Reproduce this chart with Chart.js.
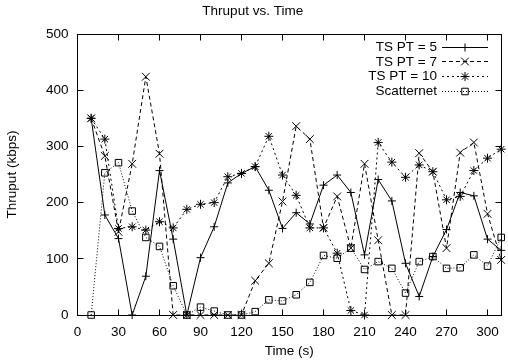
<!DOCTYPE html>
<html>
<head>
<meta charset="utf-8">
<title>Thruput vs. Time</title>
<script src="https://cdn.jsdelivr.net/npm/chart.js@4.4.1/dist/chart.umd.min.js"></script>
<style>
  html, body { margin: 0; padding: 0; background: #fff; }
  #wrap { width: 508px; height: 364px; }
</style>
</head>
<body>
<div id="wrap"><canvas id="thruput-chart" width="508" height="364"></canvas></div>
<script>
// sample times (s)
const times = [10, 20, 30, 40, 50, 60, 70, 80, 90, 100, 110, 120, 130, 140, 150, 160,
  170, 180, 190, 200, 210, 220, 230, 240, 250, 260, 270, 280, 290, 300, 310];

// thruput (kbps)
const ts5 = [350, 178, 136, 0, 69, 257, 135, 0, 102, 157, 235, 252, 264, 222, 154, 182,
  162, 231, 249, 218, 107, 241, 203, 92, 33, 104, 152, 218, 212, 135, 115];
const ts7 = [350, 283, 148, 269, 424, 287, 0, 0, 0, 0, 0, 0, 61, 92, 202, 336,
  313, 155, 211, 119, 269, 133, 0, 0, 288, 255, 119, 289, 307, 180, 98];
const ts10 = [350, 313, 154, 157, 151, 166, 155, 188, 197, 200, 246, 252, 264, 318, 249, 213,
  155, 155, 110, 8, 0, 307, 272, 245, 267, 255, 205, 211, 257, 279, 295];
const scatternet = [0, 253, 271, 185, 138, 122, 52, 0, 14, 7, 0, 0, 6, 27, 25, 36,
  58, 106, 101, 119, 81, 95, 83, 39, 95, 104, 83, 84, 107, 87, 138];

const seriesNames = ["TS PT = 5", "TS PT = 7", "TS PT = 10", "Scatternet"];
const xTickVals = [0, 30, 60, 90, 120, 150, 180, 210, 240, 270, 300];
const yTickVals = [0, 100, 200, 300, 400, 500];

const FONT = { family: "'Liberation Sans', Arial, sans-serif", size: 13.5 };

const toPoints = arr => times.map((t, i) => ({ x: t, y: arr[i] }));

// gnuplot-ish line types
const styles = [
  { dash: [], pointStyle: 'cross', radius: 4 },
  { dash: [4, 3], pointStyle: 'crossRot', radius: 5.5 },
  { dash: [2, 3], pointStyle: 'star', radius: 4.5 },
  { dash: [1, 2], pointStyle: 'rect', radius: 4.6 }
];

const datasets = [ts5, ts7, ts10, scatternet].map((arr, i) => ({
  label: seriesNames[i],
  data: toPoints(arr),
  borderColor: '#000',
  borderWidth: 1,
  borderDash: styles[i].dash,
  pointStyle: styles[i].pointStyle,
  pointRadius: styles[i].radius,
  pointBorderColor: '#000',
  pointBackgroundColor: 'rgba(0,0,0,0)',
  pointBorderWidth: 1,
  tension: 0,
  clip: false
}));

// border box, inward ticks on all four sides, and the key in the top right
const frameAndKey = {
  id: 'frameAndKey',
  afterDatasetsDraw(chart) {
    const { ctx, chartArea: a, scales: { x, y } } = chart;
    const L = Math.floor(a.left) + 0.5, R = Math.floor(a.right) + 0.5;
    const T = Math.floor(a.top) + 0.5, B = Math.floor(a.bottom) + 0.5;
    ctx.save();
    ctx.strokeStyle = '#000';
    ctx.lineWidth = 1;
    ctx.setLineDash([]);
    ctx.strokeRect(L, T, R - L, B - T);
    ctx.beginPath();
    xTickVals.forEach(v => {
      const px = Math.floor(x.getPixelForValue(v)) + 0.5;
      ctx.moveTo(px, B); ctx.lineTo(px, B - 6);
      ctx.moveTo(px, T); ctx.lineTo(px, T + 6);
    });
    yTickVals.forEach(v => {
      const py = Math.floor(y.getPixelForValue(v)) + 0.5;
      ctx.moveTo(L, py); ctx.lineTo(L + 6, py);
      ctx.moveTo(R, py); ctx.lineTo(R - 6, py);
    });
    ctx.stroke();

    // key
    ctx.font = FONT.size + 'px ' + FONT.family;
    ctx.fillStyle = '#000';
    ctx.textAlign = 'right';
    ctx.textBaseline = 'middle';
    chart.data.datasets.forEach((ds, i) => {
      const ry = 47 + i * 14.8;
      ctx.fillText(ds.label, 437, ry);
      ctx.beginPath();
      ctx.setLineDash(ds.borderDash);
      ctx.moveTo(442, Math.floor(ry) + 0.5);
      ctx.lineTo(488, Math.floor(ry) + 0.5);
      ctx.stroke();
      ctx.setLineDash([]);
      ctx.fillStyle = 'rgba(0,0,0,0)';
      Chart.helpers.drawPoint(ctx, {
        pointStyle: ds.pointStyle, radius: ds.pointRadius, rotation: 0, borderWidth: 1
      }, 465, Math.floor(ry) + 0.5);
      ctx.fillStyle = '#000';
    });
    ctx.restore();
  }
};

const ctx = document.getElementById('thruput-chart').getContext('2d');

new Chart(ctx, {
  type: 'line',
  data: { datasets },
  options: {
    responsive: false,
    animation: false,
    devicePixelRatio: 1,
    layout: { padding: { left: 0, right: 2.5, top: 0, bottom: 0 } },
    plugins: {
      legend: { display: false },
      tooltip: { enabled: false },
      title: {
        display: true,
        text: 'Thruput vs. Time',
        color: '#000',
        font: { ...FONT, weight: 'normal' },
        padding: { top: 3.5, bottom: 14.3 }
      }
    },
    scales: {
      x: {
        type: 'linear',
        min: 0,
        max: 310,
        afterBuildTicks: s => { s.ticks = xTickVals.map(v => ({ value: v })); },
        afterFit: s => { s.height = 49; },
        grid: { display: false, drawTicks: false },
        border: { display: false },
        ticks: { padding: 9, color: '#000', font: FONT, maxRotation: 0, autoSkip: false },
        title: { display: true, text: 'Time (s)', color: '#000', font: FONT, padding: { top: 0, bottom: 5 } }
      },
      y: {
        min: 0,
        max: 500,
        afterBuildTicks: s => { s.ticks = yTickVals.map(v => ({ value: v })); },
        afterFit: s => { s.width = 77.5; },
        grid: { display: false, drawTicks: false },
        border: { display: false },
        ticks: { padding: 9, color: '#000', font: FONT },
        title: { display: true, text: 'Thruput (kbps)', color: '#000', font: FONT, padding: { top: 4, bottom: 0 } }
      }
    }
  },
  plugins: [frameAndKey]
});
</script>
</body>
</html>
